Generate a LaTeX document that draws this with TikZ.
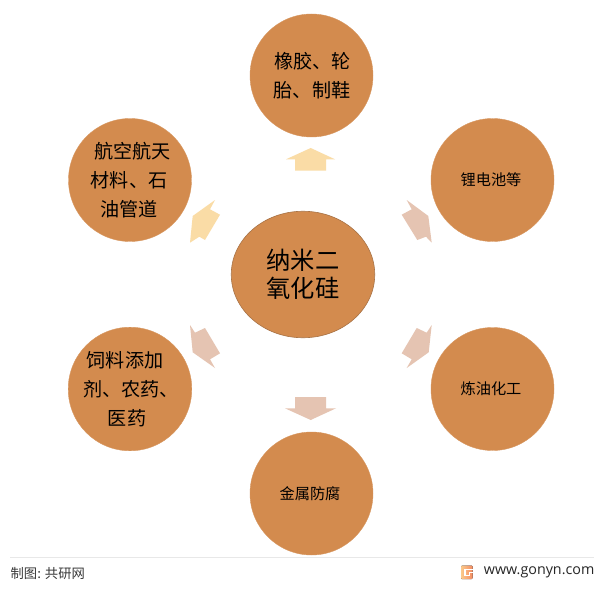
\documentclass[tikz,border=0pt]{standalone}
\usepackage{fontspec}
\setmainfont{Noto Sans CJK SC}
\newfontfamily\latinf{Open Sans}
\definecolor{disc}{HTML}{D38B4E}
\definecolor{discline}{HTML}{A87346}
\definecolor{paleY}{HTML}{FADCA6}
\definecolor{paleR}{HTML}{E5C4B2}
\definecolor{logoL}{HTML}{FBC98A}
\definecolor{logoR}{HTML}{F48C62}
\newcommand{\lineat}[3]{\hspace*{#1pt}\raisebox{#2pt}{#3}}
\tikzset{
  bigc/.style={circle,fill=disc,draw=disc!90!white,line width=.4pt,minimum size=123pt,inner sep=0pt,align=center},
  lg/.style={font=\fontsize{19.1}{29.3}\selectfont},
  sm/.style={font=\fontsize{15.2}{20}\selectfont},
  ctr/.style={ellipse,fill=disc,draw=discline,line width=.6pt,minimum width=143.5pt,minimum height=126.5pt,inner sep=0pt,align=center,font=\fontsize{24.3}{28}\selectfont},
  yarrow/.style={fill=paleY,draw=none},
  rarrow/.style={fill=paleR,draw=none}
}
\usetikzlibrary{shapes.geometric}
\begin{document}
\begin{tikzpicture}[x=1pt,y=-1pt]
\useasboundingbox[fill=white] (0,0) rectangle (613,591);
% arrows
\fill[yarrow] (310.7,148)--(335,159.3)--(326,159.3)--(326,170.7)--(295,170.7)--(295,159.3)--(286,159.3)--cycle;
\fill[yarrow] (192.7,216)--(215,200)--(210,209.3)--(220,214.7)--(205,240)--(199.3,236.7)--(190,242.7)--cycle;
\fill[rarrow] (428.3,216)--(406.7,200)--(411.7,209.3)--(401.7,214.7)--(417.3,240)--(426,236.7)--(431.7,242.7)--cycle;
\fill[rarrow] (428.7,352.3)--(406.7,368)--(411.7,359.3)--(401.7,353.3)--(416.7,328)--(426.7,332.7)--(431.7,325)--cycle;
\fill[rarrow] (192.7,352.3)--(215,368)--(210,359.3)--(220,353.3)--(205,328)--(195,332.7)--(190,325)--cycle;
\fill[rarrow] (310.7,420)--(336,408.3)--(326,408.3)--(326,397)--(295,397)--(295,408.3)--(285,408.3)--cycle;
% nodes
\node[ctr] (core) at (303,274.5) {\lineat{0}{0.5}{纳米二}\\\lineat{0}{0.5}{氧化硅}};
\node[bigc,lg] (rubber) at (311.5,75.5) {\lineat{2}{0.5}{橡胶、轮}\\\lineat{1}{0.5}{胎、制鞋}};
\node[bigc,sm] (battery) at (492.5,180) {\lineat{-3}{0}{锂电池等}};
\node[bigc,sm] (refine) at (492.5,389) {\lineat{-3}{0.5}{炼油化工}};
\node[bigc,sm] (metal) at (311.5,493.5) {\lineat{-3}{0}{金属防腐}};
\node[bigc,lg] (feed) at (130,389) {\lineat{-10}{1}{饲料添加}\\\lineat{2}{1}{剂、农药、}\\\lineat{-6}{1}{医药}};
\node[bigc,lg] (avi) at (130,180) {\lineat{5}{1}{航空航天}\\\lineat{-2}{1}{材料、石}\\\lineat{-2}{1}{油管道}};
% footer
\draw[color=black!9,line width=1pt] (10,557)--(594,557);
\node[anchor=west,inner sep=0pt,text=black!78,font=\fontsize{13.3}{15}\selectfont] (credit) at (10.5,573) {制图: 共研网};
\node[anchor=east,inner sep=0pt,text=black!85,font=\latinf\fontsize{14.3}{15}\selectfont] (site) at (594.5,572) {www.gonyn.com};
% logo
\fill[left color=logoL,right color=logoR,rounded corners=.8pt] (461,565.7) rectangle (472.5,579);
\draw[white,line width=1.2pt] (472.6,569.3)--(465,569.3)--(465,575.6)--(469.5,575.6)--(469.5,572.8)--(472.6,572.8);
\end{tikzpicture}
\end{document}
